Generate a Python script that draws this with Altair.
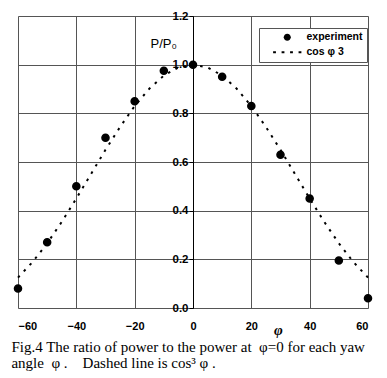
import altair as alt
import pandas as pd

# experiment data
exp_phi = [-60, -50, -40, -30, -20, -10, 0, 10, 20, 30, 40, 50, 60]
exp_ratio = [0.08, 0.27, 0.50, 0.70, 0.85, 0.975, 1.0, 0.95, 0.83, 0.63, 0.45, 0.195, 0.04]

# dashed curve (cos^3 phi) read at 5-degree steps
cur_phi = [-60, -55, -50, -45, -40, -35, -30, -25, -20, -15, -10, -5, 0,
           5, 10, 15, 20, 25, 30, 35, 40, 45, 50, 55, 60]
cur_ratio = [0.125, 0.189, 0.266, 0.354, 0.450, 0.550, 0.650, 0.744, 0.830, 0.901, 0.955, 0.989, 1.0,
             0.989, 0.955, 0.901, 0.830, 0.744, 0.650, 0.550, 0.450, 0.354, 0.266, 0.189, 0.125]

series_names = ["experiment", "cos \u03c6 3"]
x_ticks = [-60, -40, -20, 0, 20, 40, 60]
y_ticks = [0.0, 0.2, 0.4, 0.6, 0.8, 1.0, 1.2]

exp_df = pd.DataFrame({"phi": exp_phi, "ratio": exp_ratio, "series": series_names[0]})
cur_df = pd.DataFrame({"phi": cur_phi, "ratio": cur_ratio, "series": series_names[1]})

circle_path = "M-1,0A1,1,0,1,1,1,0A1,1,0,1,1,-1,0Z"
dash_path = ("M-4,-0.25H-3.2V0.25H-4Z M-1.6,-0.25H-0.8V0.25H-1.6Z "
             "M0.8,-0.25H1.6V0.25H0.8Z M3.2,-0.25H4V0.25H3.2Z")

xscale = alt.Scale(domain=[-60, 60], nice=False, zero=False)
yscale = alt.Scale(domain=[0, 1.2], nice=False)

xaxis = alt.Axis(values=x_ticks, format="d", ticks=False, labelPadding=12,
                 labelFont="Liberation Sans", labelFontSize=11, labelColor="black",
                 labelFontWeight="bold",
                 domain=False, gridColor="#555", gridOpacity=1, gridWidth=1,
                 title="\u03c6", titleFont="Liberation Serif", titleFontStyle="italic",
                 titleFontSize=15, titleFontWeight="bold", titleColor="black",
                 titleX=260, titleY=26, titleAlign="center", titleBaseline="alphabetic")

yaxis = alt.Axis(values=y_ticks, format=".1f", offset=-175, tickSize=4, tickColor="black",
                 labelPadding=1, labelFont="Liberation Sans", labelFontSize=11.5,
                 labelColor="black", labelFontWeight="bold",
                 domainColor="black", gridColor="#555", gridOpacity=1, gridWidth=1,
                 title="P/P\u2080", titleFont="Liberation Sans", titleFontSize=13,
                 titleFontWeight="normal", titleColor="black", titleAngle=0,
                 titleX=-43, titleY=31, titleAlign="left", titleBaseline="alphabetic")

line = alt.Chart(cur_df).mark_line(color="black", strokeDash=[2.5, 6], strokeWidth=2).encode(
    x=alt.X("phi:Q", scale=xscale, axis=xaxis),
    y=alt.Y("ratio:Q", scale=yscale, axis=yaxis),
)

points = alt.Chart(exp_df).mark_point(filled=True, fill="black", stroke="black",
                                      strokeWidth=1.5, opacity=1, size=50).encode(
    x=alt.X("phi:Q", scale=xscale),
    y=alt.Y("ratio:Q", scale=yscale),
    shape=alt.Shape("series:N",
                    scale=alt.Scale(domain=series_names, range=[circle_path, dash_path]),
                    legend=alt.Legend(orient="none", legendX=241, legendY=12, title=None,
                                      strokeColor="#555", fillColor="white", padding=4,
                                      rowPadding=3, symbolSize=50, symbolOffset=19,
                                      labelOffset=14, symbolFillColor="black",
                                      symbolStrokeColor="black", symbolStrokeWidth=1.5,
                                      labelFont="Liberation Sans", labelFontSize=10.5,
                                      labelColor="black", labelFontWeight="bold")),
)

chart = alt.layer(line, points).properties(
    width=350, height=292,
    autosize=alt.AutoSizeParams(type="none"),
    padding={"left": 18, "top": 16, "right": 19, "bottom": 70},
    title=alt.TitleParams(
        text=["Fig.4 The ratio of power to the power at \u00a0\u03c6=0 for each yaw",
              "angle \u00a0\u03c6 . \u00a0\u00a0\u00a0Dashed line is cos\u00b3 \u03c6 ."],
        orient="bottom", anchor="start", font="Liberation Serif", fontSize=15,
        fontWeight="normal", color="black", lineHeight=16, offset=3),
).configure_view(stroke="black", strokeWidth=1.2).configure(background="white")

chart.save("out.html", embed_options={"renderer": "svg", "actions": False})
